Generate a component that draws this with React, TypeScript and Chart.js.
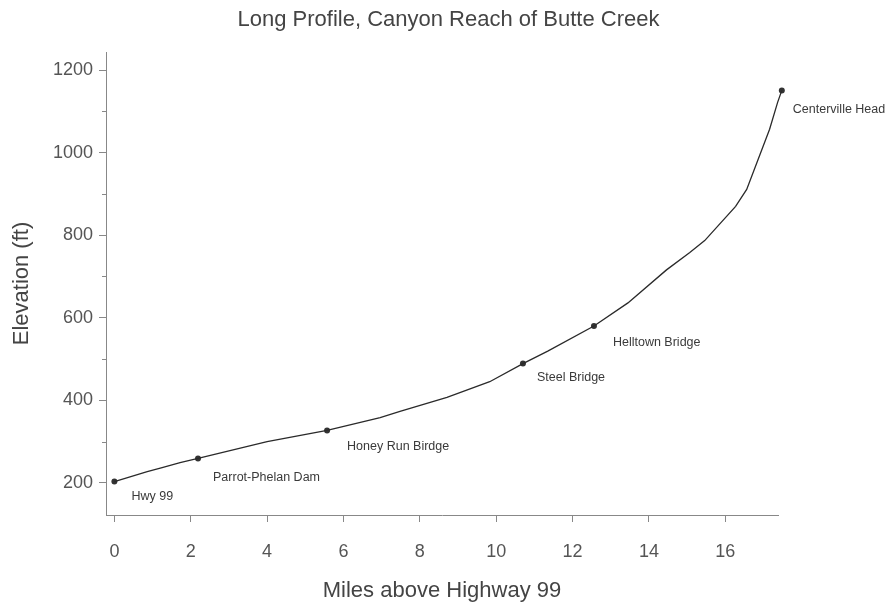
import React, { useEffect, useRef } from "react";
import { Chart, registerables } from "chart.js";

Chart.register(...registerables);

// ---- data ----
const profileMiles = [0, 0.86, 1.25, 1.72, 2.19, 4.0, 5.57, 6.96, 7.48, 8.71, 9.83, 10.7, 11.35, 12.56, 13.45, 14.46, 15.07, 15.46, 16.27, 16.56, 17.16, 17.37, 17.48];
const profileElev = [203, 227, 237, 249, 259, 300, 327, 358, 373, 407, 445, 489, 519, 580, 636, 716, 758, 787, 870, 911, 1057, 1122, 1151];

const landmarkNames = ["Hwy 99", "Parrot-Phelan Dam", "Honey Run Birdge", "Steel Bridge", "Helltown Bridge", "Centerville Head"];
const landmarkMiles = [0, 2.19, 5.57, 10.7, 12.56, 17.48];
const landmarkElev = [203, 259, 327, 489, 580, 1151];

const xTickValues = [0, 2, 4, 6, 8, 10, 12, 14, 16];
const yTickValues = [200, 400, 600, 800, 1000, 1200];
const yMinorTicks = [300, 500, 700, 900, 1100];

const TITLE = "Long Profile, Canyon Reach of Butte Creek";
const X_TITLE = "Miles above Highway 99";
const Y_TITLE = "Elevation (ft)";

// label offsets (pixels, from marker to text start / middle)
const LABEL_DX = [17, 15, 20, 14, 19, 11];
const LABEL_DY = [15, 19, 16, 14, 17, 19];

const FONT = "'Liberation Sans', Arial, Helvetica, sans-serif";

export default function App() {
  const ref = useRef<HTMLCanvasElement | null>(null);

  useEffect(() => {
    const canvas = ref.current;
    if (!canvas) return;

    const labelPlugin = {
      id: "landmarkLabels",
      afterDatasetsDraw(chart: any) {
        const { ctx } = chart;
        const xs = chart.scales.x;
        const ys = chart.scales.y;
        ctx.save();
        ctx.font = `12.5px ${FONT}`;
        ctx.fillStyle = "#3a3a3a";
        ctx.textAlign = "left";
        ctx.textBaseline = "middle";
        landmarkNames.forEach((name, i) => {
          const px = xs.getPixelForValue(landmarkMiles[i]);
          const py = ys.getPixelForValue(landmarkElev[i]);
          ctx.fillText(name, px + LABEL_DX[i], py + LABEL_DY[i]);
        });
        ctx.restore();
      },
    };

    const titlePlugin = {
      id: "pageTitle",
      afterDraw(chart: any) {
        const { ctx } = chart;
        ctx.save();
        ctx.font = `22px ${FONT}`;
        ctx.fillStyle = "#444";
        ctx.textAlign = "center";
        ctx.textBaseline = "middle";
        ctx.fillText(TITLE, 448.5, 20);
        ctx.restore();
      },
    };

    const minorTickPlugin = {
      id: "minorTicks",
      afterDraw(chart: any) {
        const { ctx } = chart;
        const ys = chart.scales.y;
        ctx.save();
        ctx.strokeStyle = "#888";
        ctx.lineWidth = 1;
        yMinorTicks.forEach((v) => {
          const py = Math.round(ys.getPixelForValue(v)) + 0.5;
          ctx.beginPath();
          ctx.moveTo(ys.right - 4, py);
          ctx.lineTo(ys.right, py);
          ctx.stroke();
        });
        ctx.restore();
      },
    };

    const chart = new Chart(canvas, {
      type: "scatter",
      data: {
        datasets: [
          {
            label: "Profile",
            data: profileMiles.map((m, i) => ({ x: m, y: profileElev[i] })),
            showLine: true,
            borderColor: "#2a2a2a",
            borderWidth: 1.3,
            pointRadius: 0,
            tension: 0,
            clip: false as any,
          },
          {
            label: "Landmarks",
            data: landmarkMiles.map((m, i) => ({ x: m, y: landmarkElev[i] })),
            showLine: false,
            pointRadius: 3,
            backgroundColor: "#333",
            borderColor: "#333",
            borderWidth: 0,
            clip: false as any,
          },
        ],
      },
      options: {
        animation: false,
        responsive: false,
        devicePixelRatio: 1,
        layout: { padding: { left: 0, right: 113, top: 52, bottom: 0 } },
        plugins: {
          legend: { display: false },
          tooltip: { enabled: false },
          title: { display: false },
        },
        scales: {
          x: {
            type: "linear",
            min: -0.22,
            max: 17.38,
            afterBuildTicks: (s: any) => {
              s.ticks = xTickValues.map((v) => ({ value: v }));
            },
            afterFit: (s: any) => {
              s.height = 93;
            },
            ticks: {
              color: "#555",
              font: { family: FONT, size: 18 },
              padding: 19,
              maxRotation: 0,
              autoSkip: false,
              callback: (v: any) => String(v),
            },
            grid: {
              drawOnChartArea: false,
              drawTicks: true,
              tickLength: 7,
              tickColor: "#888",
            },
            border: { color: "#888", width: 1 },
            title: {
              display: true,
              text: X_TITLE,
              color: "#444",
              font: { family: FONT, size: 22 },
              padding: { top: 0, bottom: 4 },
            },
          },
          y: {
            type: "linear",
            min: 122,
            max: 1244,
            afterBuildTicks: (s: any) => {
              s.ticks = yTickValues.map((v) => ({ value: v }));
            },
            afterFit: (s: any) => {
              s.width = 106;
            },
            ticks: {
              color: "#555",
              font: { family: FONT, size: 18 },
              padding: 6,
              autoSkip: false,
              callback: (v: any) => String(v),
            },
            grid: {
              drawOnChartArea: false,
              drawTicks: true,
              tickLength: 7,
              tickColor: "#888",
            },
            border: { color: "#888", width: 1 },
            title: {
              display: true,
              text: Y_TITLE,
              color: "#444",
              font: { family: FONT, size: 22 },
              padding: { top: 9, bottom: 0 },
            },
          },
        },
      },
      plugins: [labelPlugin, minorTickPlugin, titlePlugin],
    });

    return () => chart.destroy();
  }, []);

  return (
    <div style={{ position: "fixed", left: 0, top: 0, width: 891, height: 608, background: "#fff" }}>
      <canvas ref={ref} width={891} height={608} style={{ display: "block" }} />
    </div>
  );
}
